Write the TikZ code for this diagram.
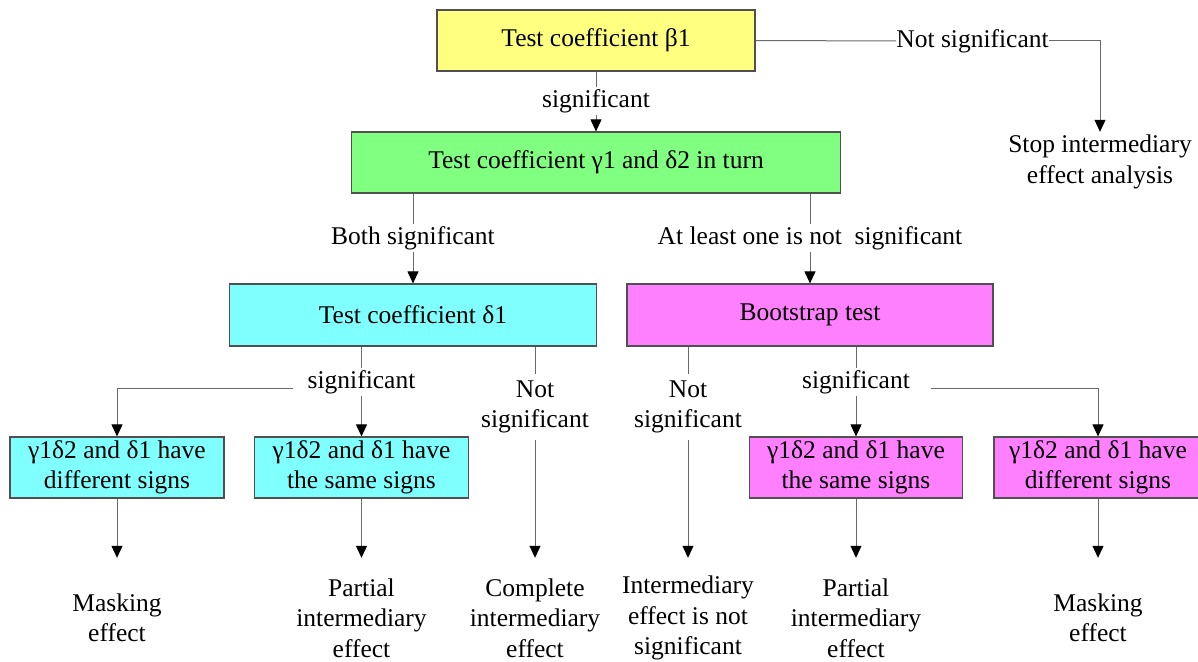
\documentclass[tikz,border=0pt]{standalone}
\usepackage{fontspec}
\setmainfont{Liberation Serif}
\usetikzlibrary{arrows.meta}
\definecolor{yel}{HTML}{FFFF80}
\definecolor{grn}{HTML}{80FF80}
\definecolor{cyn}{HTML}{80FFFF}
\definecolor{mag}{HTML}{FF80FF}
\definecolor{boxline}{HTML}{505050}
\definecolor{lineg}{HTML}{6A6A6A}
\begin{document}
\begin{tikzpicture}[x=1pt,y=-1pt,
  every node/.style={font=\fontsize{25.5}{30.5}\selectfont, text=black},
  box/.style={draw=boxline, line width=1.2pt, minimum height=61, inner sep=0pt, align=center},
  lbl/.style={inner sep=2.5pt, align=center},
  res/.style={align=center, minimum height=120, inner sep=0pt},
  conn/.style={draw=lineg, line width=1pt},
  arr/.style={conn, -{Triangle[width=11pt,length=12pt,color=black]}}]
\fill[white] (0,0) rectangle (1198,661);
\useasboundingbox (0,0) rectangle (1198,661);

% boxes
\node[box, fill=yel, minimum width=318] (b1) at (596,40.5) {Test coefficient β1};
\node[box, fill=grn, minimum width=489] (b2) at (596,162.5) {Test coefficient γ1 and δ2 in turn};
\node[box, fill=cyn, minimum width=367, minimum height=62] (b3) at (413,315) {Test coefficient δ1};
\node[box, fill=mag, minimum width=366, minimum height=62] (b4) at (810,315) {Bootstrap test};
\node[box, fill=cyn, minimum width=214] (s1) at (117,467.5) {γ1δ2 and δ1 have\\different signs};
\node[box, fill=cyn, minimum width=214] (s2) at (361.5,467.5) {γ1δ2 and δ1 have\\the same signs};
\node[box, fill=mag, minimum width=213] (s3) at (856,467.5) {γ1δ2 and δ1 have\\the same signs};
\node[box, fill=mag, minimum width=208] (s4) at (1098,467.5) {γ1δ2 and δ1 have\\different signs};

% labels
\node[lbl] (l1) at (596,101) {significant};
\node[lbl, inner sep=0pt] (l0) at (972.5,41) {Not significant};
\node[res, minimum height=60] (stop) at (1100,162) {Stop intermediary\\effect analysis};
\node[lbl] (l2) at (413,238) {Both significant};
\node[lbl] (l3) at (810,238) {At least one is not\ \ significant};
\node[lbl] (l4) at (361.5,382) {significant};
\node[lbl, minimum height=66] (l5) at (535,407) {Not\\significant};
\node[lbl, minimum height=66] (l6) at (688,407) {Not\\significant};
\node[lbl] (l7) at (856,382) {significant};

% results
\node[res] (r1) at (117,618) {Masking\\effect};
\node[res] (r2) at (361.5,618) {Partial\\intermediary\\effect};
\node[res] (r3) at (535,618) {Complete\\intermediary\\effect};
\node[res] (r4) at (688,618) {Intermediary\\effect is not\\significant};
\node[res] (r5) at (856,618) {Partial\\intermediary\\effect};
\node[res] (r6) at (1098,618) {Masking\\effect};

% connectors
\draw[conn] (b1.south) -- (l1.north);
\draw[arr] (l1.south) -- (b2.north);
\draw[conn] (b1.east) -- (l0.west);
\draw[arr] (l0.east) -| (stop.north);
\draw[conn] (l2 |- b2.south) -- (l2.north);
\draw[arr] (l2.south) -- (b3.north);
\draw[conn] (l3 |- b2.south) -- (l3.north);
\draw[arr] (l3.south) -- (b4.north);
\draw[conn] (l4 |- b3.south) -- (l4.north);
\draw[arr] (l4.south) -- (s2.north);
\draw[arr] ([xshift=-12pt]l4.base west) -| (s1.north);
\draw[conn] (l5 |- b3.south) -- (l5.north);
\draw[arr] (l5.south) -- (r3.north);
\draw[conn] (l6 |- b4.south) -- (l6.north);
\draw[arr] (l6.south) -- (r4.north);
\draw[conn] (l7 |- b4.south) -- (l7.north);
\draw[arr] (l7.south) -- (s3.north);
\draw[arr] ([xshift=18pt]l7.base east) -| (s4.north);
\draw[arr] (s1.south) -- (r1.north);
\draw[arr] (s2.south) -- (r2.north);
\draw[arr] (s3.south) -- (r5.north);
\draw[arr] (s4.south) -- (r6.north);
\end{tikzpicture}
\end{document}
